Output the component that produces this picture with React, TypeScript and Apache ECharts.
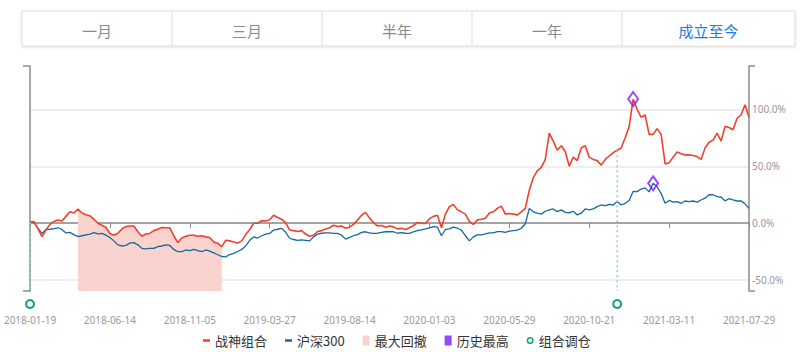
import React, { useEffect, useRef } from 'react';
import * as echarts from 'echarts';

const tabLabels = ['一月', '三月', '半年', '一年', '成立至今'];
const activeTab = 4;

const xTickLabels = [
  '2018-01-19', '2018-06-14', '2018-11-05', '2019-03-27', '2019-08-14',
  '2020-01-03', '2020-05-29', '2020-10-21', '2021-03-11', '2021-07-29',
];
const pointsPerTick = 20;

// 战神组合 cumulative return (%), one value every ~5 trading days
const portfolio = [
  1, 1.4, -5, -11.7, -6, -1, 1.5, 2.9, 2, 6,
  10, 9, 12.3, 9, 7.5, 6.5, 3.5, 0, -1.8, -3.5,
  -9, -10.5, -8.8, -5, -2.9, -2.5, -2.5, -7.5, -11.5, -9.5,
  -9, -6.5, -5.3, -3.8, -4, -4, -11, -17, -13, -11.5,
  -10.5, -10.5, -11.5, -11, -12, -12.5, -16.5, -17.5, -20.5, -15,
  -15.5, -16.5, -17.5, -15.5, -10, -5.5, 0, 0, 2.3, 2,
  3, 7, 5, 3.5, 0.5, -6, -6.5, -7.3, -6.5, -9.5,
  -11.5, -10.5, -7.3, -6.5, -5, -4, -1.8, -2.9, -2.5, -4.4,
  -3.5, -1, 2.9, 7, 9.5, 4.5, 0.5, -2.3, -2, -3.5,
  -2.5, -3.2, -5, -4.5, -5.5, -4, -2, 0.6, 0, -0.3,
  4, 6, 7, -4, 8, 14.5, 16.5, 11.7, 10, 8,
  1.5, -1, 2.9, 3.5, 4.4, 9, 10, 13, 15, 8,
  8.5, 8, 7.3, 10, 13, 29, 40, 46, 49, 56,
  79, 72, 64, 68, 63, 50, 58, 55, 66, 68,
  58, 56, 55, 51, 56, 59, 62, 64, 66, 75,
  85, 109, 100, 93, 95, 78, 78, 83, 78, 52,
  53, 58, 62.5, 61, 60, 60, 59.5, 58.5, 56, 66,
  71, 73, 79, 72, 85, 84, 82, 92, 95, 104,
  93,
];

// 沪深300 cumulative return (%)
const hs300 = [
  1, 0.5, -4.4, -9, -5.5, -5.3, -4.8, -4, -5.5, -8.5,
  -8, -10, -11.7, -11, -10.2, -9.5, -8.2, -9.4, -9, -10.5,
  -12.5, -15.5, -19, -20, -19.5, -17.5, -17, -19, -22, -22.5,
  -22, -22, -20.5, -20, -19, -19.5, -23, -25, -25, -23.5,
  -24, -23, -24, -25, -23.5, -24.5, -26, -27.7, -29.2, -29.5,
  -27.5, -26.5, -24.8, -23, -20, -15, -12, -13, -11, -9.5,
  -9, -6, -5.3, -4.5, -8, -13.2, -14.3, -15, -14.6, -15,
  -15.5, -12, -9.5, -8.8, -8.5, -8.5, -9, -9, -10.5, -14,
  -12.5, -11, -10, -8, -7.5, -8.5, -9, -8.8, -8, -7.5,
  -7.5, -7.5, -8.8, -8.2, -8.8, -9, -7.5, -6.4, -5.9, -5,
  -4, -3, -3.5, -11, -5.5, -5, -3.5, -4.4, -6, -11,
  -15.5, -12, -10.2, -10.2, -9.4, -8.5, -8.5, -7.3, -7.3, -8,
  -7, -6.5, -6, -4.4, -0.5, 13, 10, 8.8, 8, 10.5,
  11.7, 12.5, 10.2, 11.7, 9.5, 9, 10.5, 7.3, 8.8, 12.5,
  11.7, 12.5, 14.6, 16, 15.5, 16.5, 16, 19, 16, 17.5,
  20, 28, 27.7, 30, 31, 27.5, 35, 32, 26, 17.5,
  20, 18.5, 19, 17.5, 19.5, 19, 19.5, 18.5, 20.4, 22,
  25, 25, 23.4, 23, 19.6, 21.5, 20.4, 19.5, 19.6, 17,
  13,
];

const drawdownRange = [12, 48];
const rebalanceIdx = [0, 147];
const yLabelValues = [-50, 0, 50, 100];
const yMin = -59.5;
const yMax = 138;

const RED = '#f2402e';
const BLUE = '#136a9e';
const PINK = '#fad3cf';
const PURPLE = '#7a1cff';
const GREEN = '#14a07a';
const GREEN_LIGHT = '#84d6c1';
const AXIS = '#8a8a8a';

const LINE_ICON = 'path://M0,0h0.01v10h-0.01zM0,3.6h8v2.8h-8z';
const RING_ICON =
  'path://M5,0A5,5 0 1,1 5,10A5,5 0 1,1 5,0ZM5,2.2A2.8,2.8 0 1,0 5,7.8A2.8,2.8 0 1,0 5,2.2Z';

function peakOf(arr: number[]): [number, number] {
  let k = 0;
  arr.forEach((v, i) => {
    if (v > arr[k]) k = i;
  });
  return [k, arr[k]];
}

export default function App() {
  const ref = useRef<HTMLDivElement>(null);

  useEffect(() => {
    if (!ref.current) return;
    const chart = echarts.init(ref.current, undefined, { renderer: 'svg' });

    const redData = portfolio.map((v, i) => [i, v]);
    const blueData = hs300.map((v, i) => [i, v]);
    const ddData: number[][] = [];
    for (let i = drawdownRange[0]; i <= drawdownRange[1]; i++) ddData.push([i, portfolio[i]]);
    const peaks = [peakOf(portfolio), peakOf(hs300)];
    const rebData = rebalanceIdx.map((i) => [i, portfolio[i]]);

    const edges = [22, 172, 322, 472, 622, 795];
    const tabTop = 11;
    const tabH = 35;
    const graphics: any[] = [
      {
        type: 'rect',
        shape: { x: edges[0], y: tabTop, width: edges[5] - edges[0], height: tabH },
        style: {
          fill: '#fff',
          stroke: '#dedede',
          lineWidth: 1,
          shadowBlur: 3,
          shadowColor: 'rgba(0,0,0,0.12)',
          shadowOffsetY: 1,
        },
        z: 0,
      },
    ];
    for (let k = 1; k < edges.length - 1; k++) {
      graphics.push({
        type: 'line',
        shape: { x1: edges[k], y1: tabTop, x2: edges[k], y2: tabTop + tabH },
        style: { stroke: '#dedede', lineWidth: 1 },
        z: 1,
      });
    }
    tabLabels.forEach((t, k) => {
      graphics.push({
        type: 'text',
        x: (edges[k] + edges[k + 1]) / 2,
        y: 30,
        style: {
          text: t,
          fill: k === activeTab ? '#1b7ae8' : '#8a8a8a',
          font: '15px "Noto Sans CJK SC"',
          align: 'center',
          verticalAlign: 'middle',
        },
        z: 2,
      });
    });

    const option: any = {
      animation: false,
      textStyle: { fontFamily: '"Noto Sans", "Noto Sans CJK SC", sans-serif' },
      graphic: graphics,
      grid: { left: 30, right: 51, top: 66, bottom: 61, containLabel: false },
      legend: {
        top: 334,
        left: 203,
        padding: 0,
        itemWidth: 7,
        itemHeight: 10,
        itemGap: 18,
        selectedMode: false,
        textStyle: { fontSize: 13, color: '#333', fontFamily: '"Noto Sans CJK SC"' },
        data: [
          { name: '战神组合', icon: LINE_ICON, itemStyle: { color: RED } },
          { name: '沪深300', icon: LINE_ICON, itemStyle: { color: BLUE } },
          { name: '最大回撤', icon: 'rect', itemStyle: { color: PINK } },
          { name: '历史最高', icon: 'rect', itemStyle: { color: PURPLE, borderWidth: 0 } },
          { name: '组合调仓', icon: RING_ICON, itemStyle: { color: GREEN, borderWidth: 0 } },
        ],
      },
      xAxis: {
        type: 'value',
        min: 0,
        max: (xTickLabels.length - 1) * pointsPerTick,
        interval: pointsPerTick,
        axisLine: { show: true, lineStyle: { color: AXIS, width: 1.5 } },
        axisTick: { show: true, length: 5, lineStyle: { color: AXIS } },
        splitLine: { show: false },
        axisLabel: {
          margin: 24,
          fontSize: 10,
          color: '#999',
          showMinLabel: true,
          showMaxLabel: true,
          formatter: (v: number) => xTickLabels[Math.round(v / pointsPerTick)] ?? '',
        },
      },
      yAxis: [
        {
          type: 'value',
          position: 'left',
          min: yMin,
          max: yMax,
          axisLine: { show: true, lineStyle: { color: AXIS, width: 1.5 } },
          axisTick: { show: true, length: 7, customValues: [yMin, yMax], lineStyle: { color: AXIS, width: 1.5 } },
          axisLabel: { show: false },
          splitLine: { show: false },
        },
        {
          type: 'value',
          position: 'right',
          min: yMin,
          max: yMax,
          axisLine: { show: true, lineStyle: { color: AXIS, width: 1.5 } },
          axisTick: { show: true, length: 6, customValues: [yMin, yMax], lineStyle: { color: AXIS, width: 1.5 } },
          axisLabel: {
            show: true,
            customValues: yLabelValues,
            margin: 3,
            fontSize: 10,
            color: '#999',
            formatter: (v: number) => v.toFixed(1) + '%',
          },
          splitLine: { show: false },
        },
        {
          type: 'value',
          position: 'left',
          min: yMin,
          max: yMax,
          axisLine: { show: false },
          axisTick: { show: false, customValues: yLabelValues },
          axisLabel: { show: false },
          splitLine: { show: true, lineStyle: { color: '#e9e9e9', width: 1.5 } },
        },
      ],
      series: [
        {
          name: '最大回撤',
          type: 'line',
          yAxisIndex: 0,
          data: ddData,
          showSymbol: false,
          symbol: 'none',
          lineStyle: { width: 0, opacity: 0 },
          itemStyle: { color: PINK },
          areaStyle: { color: PINK, opacity: 1, origin: 'start' },
          z: 1,
        },
        {
          name: '沪深300',
          type: 'line',
          yAxisIndex: 0,
          data: blueData,
          showSymbol: false,
          symbol: 'none',
          lineStyle: { color: BLUE, width: 1.3 },
          itemStyle: { color: BLUE },
          z: 3,
        },
        {
          name: '战神组合',
          type: 'line',
          yAxisIndex: 0,
          data: redData,
          showSymbol: false,
          symbol: 'none',
          lineStyle: { color: RED, width: 1.6 },
          itemStyle: { color: RED },
          z: 4,
        },
        {
          name: '组合调仓',
          type: 'custom',
          yAxisIndex: 0,
          clip: false,
          data: rebData,
          itemStyle: { color: GREEN },
          encode: { x: 0, y: 1 },
          renderItem: (params: any, api: any) => {
            const pt = api.coord([api.value(0), api.value(1)]);
            const bottom = params.coordSys.y + params.coordSys.height;
            return {
              type: 'group',
              children: [
                {
                  type: 'line',
                  shape: { x1: pt[0], y1: pt[1], x2: pt[0], y2: bottom },
                  style: { stroke: GREEN_LIGHT, lineWidth: 1.5, lineDash: [2, 3] },
                },
                {
                  type: 'circle',
                  shape: { cx: pt[0], cy: bottom + 13, r: 4 },
                  style: { fill: '#fff', stroke: GREEN, lineWidth: 2 },
                },
              ],
            };
          },
          z: 5,
        },
        {
          name: '历史最高',
          type: 'scatter',
          yAxisIndex: 0,
          data: peaks,
          symbol: 'diamond',
          symbolSize: [10, 14],
          itemStyle: { color: 'rgba(255,255,255,0)', borderColor: PURPLE, borderWidth: 2 },
          z: 6,
        },
      ],
    };

    chart.setOption(option);
    return () => chart.dispose();
  }, []);

  return (
    <div
      ref={ref}
      style={{ position: 'fixed', left: 0, top: 0, width: 800, height: 352, background: '#fff' }}
    />
  );
}
